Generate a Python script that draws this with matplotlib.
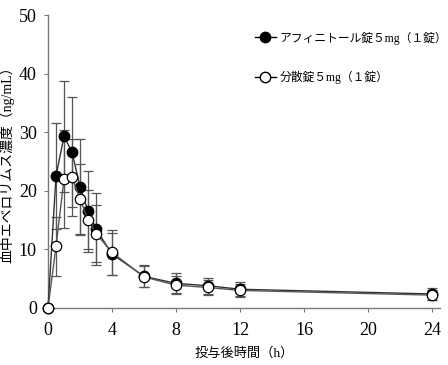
import matplotlib.pyplot as plt
from matplotlib.lines import Line2D

plt.rcParams['font.family'] = ['Liberation Serif', 'Noto Sans CJK JP']

# time after dosing (h)
t = [0, 0.5, 1, 1.5, 2, 2.5, 3, 4, 6, 8, 10, 12, 24]

# アフィニトール錠 5mg
afi_mean = [0, 22.5, 29.3, 26.6, 20.7, 16.5, 13.5, 9.2, 5.4, 4.2, 3.8, 3.2, 2.4]
afi_sd = [0, 9.1, 9.5, 9.4, 8.2, 6.9, 6.2, 3.6, 1.9, 1.7, 1.4, 1.2, 1.0]

# 分散錠 5mg
dis_mean = [0, 10.5, 22.0, 22.3, 18.6, 15.1, 12.7, 9.5, 5.3, 3.9, 3.5, 3.0, 2.2]
dis_sd = [0, 5.0, 8.4, 6.6, 6.0, 5.0, 4.9, 3.8, 1.8, 1.5, 1.3, 1.1, 0.9]

xticks = [0, 4, 8, 12, 16, 20, 24]
yticks = [0, 10, 20, 30, 40, 50]

fig = plt.figure(figsize=(4.48, 3.65), dpi=100)
ax = fig.add_axes([48 / 448, 57 / 365, 392 / 448, 293 / 365])

ax.errorbar(t, afi_mean, yerr=afi_sd, fmt='none', ecolor='#555555',
            elinewidth=0.9, capsize=3.5, capthick=0.9, clip_on=False, zorder=2)
ax.errorbar(t, dis_mean, yerr=dis_sd, fmt='none', ecolor='#555555',
            elinewidth=0.9, capsize=3.5, capthick=0.9, clip_on=False, zorder=2)
ax.plot(t, afi_mean, '-o', color='#333333', lw=1.0, mfc='black', mec='black',
        ms=7.5, clip_on=False, zorder=3)
ax.plot(t, dis_mean, '-o', color='#555555', lw=1.0, mfc='white', mec='black',
        mew=0.9, ms=7.5, clip_on=False, zorder=4)

ax.set_xlim(0, 24.5)
ax.set_ylim(0, 50)
ax.set_xticks(xticks)
ax.set_yticks(yticks)
ax.tick_params(direction='out', length=3, width=0.8, color='#777777',
               labelsize=13, pad=5)
ax.tick_params(axis='x', pad=7)
for s in ['top', 'right']:
    ax.spines[s].set_visible(False)
for s in ['left', 'bottom']:
    ax.spines[s].set_color('#777777')
    ax.spines[s].set_linewidth(1.0)

ax.set_xlabel('投与後時間（h）', fontsize=9.5, labelpad=6)
ax.set_ylabel('血中エベロリムス濃度（ng/mL）', fontsize=10, labelpad=3)

handles = [
    Line2D([], [], color='black', lw=1.0, marker='o', ms=7.5, mfc='black', mec='black'),
    Line2D([], [], color='black', lw=1.0, marker='o', ms=7.5, mfc='white', mec='black'),
]
labels = ['アフィニトール錠５mg（１錠）', '分散錠５mg（１錠）']
ax.legend(handles, labels, loc='upper left', bbox_to_anchor=(0.5, 0.98),
          frameon=False, fontsize=8.5, handlelength=1.8, handletextpad=0.3,
          labelspacing=2.2)

fig.savefig('out.png', dpi=100)
